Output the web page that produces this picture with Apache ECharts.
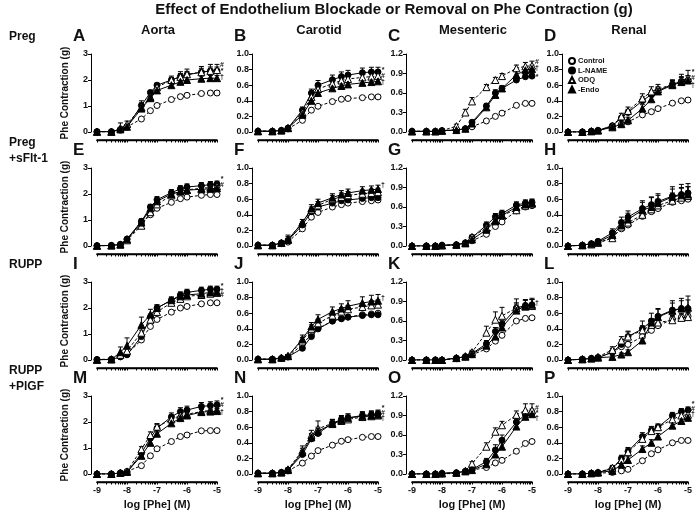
<!DOCTYPE html>
<html>
<head>
<meta charset="utf-8">
<script src="https://cdn.jsdelivr.net/npm/echarts@6/dist/echarts.min.js"></script>
<style>
  html, body { margin: 0; padding: 0; background: #fff; }
  #chart { width: 696px; height: 512px; }
</style>
</head>
<body>
<div id="chart"></div>
<script>
// log [Phe] doses (M)
const doses = [-9, -8.52, -8.22, -8, -7.52, -7.22, -7, -6.52, -6.22, -6, -5.52, -5.22, -5];
const groups = ['Control', 'L-NAME', 'ODQ', '-Endo'];
const vessels = ['Aorta', 'Carotid', 'Mesenteric', 'Renal'];
const conditions = [['Preg'], ['Preg', '+sFlt-1'], ['RUPP'], ['RUPP', '+PlGF']];
const letters = ['A','B','C','D','E','F','G','H','I','J','K','L','M','N','O','P'];
const xTicks = [-9, -8, -7, -6, -5];
const yMax = [3, 1, 1.2, 1];
const yStep = [1, 0.2, 0.3, 0.2];
const yDecimals = [0, 1, 1, 1];

// mean rows: Control, L-NAME, ODQ, -Endo
const A_mean = [
  [0.01,0.01,0.07,0.2,0.5,0.82,1.02,1.25,1.36,1.41,1.48,1.5,1.5],
  [0.01,0.01,0.1,0.2,1.02,1.52,1.8,2.0,2.13,2.2,2.3,2.35,2.35],
  [0.01,0.01,0.15,0.3,0.95,1.35,1.72,2.0,2.12,2.22,2.3,2.35,2.38],
  [0.01,0.01,0.1,0.2,0.9,1.3,1.6,1.8,1.93,2.0,2.05,2.07,2.07]];
const A_sem = [
  [0.02,0.02,0.03,0.04,0.04,0.05,0.05,0.07,0.08,0.08,0.08,0.08,0.08],
  [0.02,0.02,0.05,0.05,0.1,0.08,0.08,0.1,0.12,0.13,0.15,0.15,0.15],
  [0.02,0.02,0.2,0.12,0.25,0.15,0.12,0.15,0.2,0.2,0.22,0.25,0.22],
  [0.02,0.02,0.05,0.05,0.1,0.08,0.08,0.1,0.1,0.1,0.1,0.1,0.1]];
const B_mean = [
  [0.01,0.01,0.02,0.04,0.15,0.28,0.33,0.39,0.42,0.43,0.44,0.45,0.45],
  [0.01,0.01,0.02,0.05,0.28,0.5,0.6,0.67,0.71,0.73,0.76,0.77,0.77],
  [0.01,0.01,0.02,0.05,0.25,0.45,0.55,0.62,0.66,0.68,0.7,0.71,0.72],
  [0.01,0.01,0.02,0.05,0.22,0.4,0.5,0.56,0.59,0.61,0.63,0.64,0.65]];
const B_sem = [
  [0.01,0.01,0.01,0.01,0.02,0.02,0.02,0.02,0.02,0.02,0.02,0.02,0.02],
  [0.01,0.01,0.01,0.02,0.04,0.05,0.06,0.06,0.06,0.06,0.06,0.06,0.06],
  [0.01,0.01,0.01,0.02,0.04,0.05,0.05,0.05,0.05,0.05,0.05,0.05,0.05],
  [0.01,0.01,0.01,0.02,0.03,0.04,0.04,0.04,0.04,0.04,0.04,0.04,0.04]];
const C_mean = [
  [0.01,0.01,0.01,0.02,0.03,0.05,0.08,0.17,0.24,0.29,0.41,0.44,0.44],
  [0.01,0.01,0.01,0.02,0.03,0.05,0.15,0.4,0.6,0.67,0.8,0.85,0.86],
  [0.01,0.01,0.01,0.02,0.09,0.3,0.47,0.69,0.8,0.86,0.98,1.01,1.02],
  [0.01,0.01,0.01,0.02,0.03,0.05,0.13,0.38,0.57,0.67,0.88,0.95,0.97]];
const C_sem = [
  [0.01,0.01,0.01,0.01,0.01,0.01,0.01,0.02,0.02,0.02,0.02,0.02,0.02],
  [0.01,0.01,0.01,0.01,0.01,0.02,0.03,0.04,0.05,0.04,0.05,0.05,0.04],
  [0.01,0.01,0.01,0.01,0.03,0.05,0.06,0.04,0.04,0.04,0.05,0.06,0.07],
  [0.01,0.01,0.01,0.01,0.01,0.02,0.03,0.04,0.04,0.04,0.05,0.05,0.06]];
const D_mean = [
  [0,0,0.01,0.02,0.07,0.1,0.13,0.22,0.26,0.3,0.37,0.4,0.41],
  [0,0,0.01,0.02,0.08,0.18,0.25,0.4,0.48,0.53,0.61,0.65,0.66],
  [0,0,0.01,0.02,0.08,0.2,0.27,0.43,0.52,0.55,0.61,0.66,0.69],
  [0,0,0.01,0.02,0.06,0.1,0.15,0.3,0.42,0.52,0.6,0.64,0.66]];
const D_sem = [
  [0,0,0.01,0.01,0.01,0.02,0.02,0.02,0.02,0.02,0.02,0.02,0.02],
  [0,0,0.01,0.01,0.02,0.03,0.04,0.05,0.05,0.05,0.05,0.06,0.06],
  [0,0,0.01,0.01,0.02,0.04,0.05,0.06,0.06,0.06,0.06,0.08,0.1],
  [0,0,0.01,0.01,0.02,0.03,0.04,0.05,0.05,0.05,0.05,0.06,0.06]];
const E_mean = [
  [0.01,0.02,0.06,0.25,0.85,1.2,1.45,1.68,1.82,1.88,1.95,1.98,1.98],
  [0.01,0.02,0.06,0.27,0.95,1.5,1.78,2.05,2.2,2.27,2.32,2.36,2.38],
  [0.01,0.02,0.05,0.22,0.78,1.3,1.6,1.95,2.1,2.16,2.22,2.25,2.3],
  [0.01,0.02,0.06,0.26,0.9,1.45,1.72,2.0,2.1,2.15,2.18,2.2,2.22]];
const E_sem = [
  [0.01,0.01,0.02,0.03,0.06,0.06,0.06,0.06,0.06,0.06,0.06,0.06,0.06],
  [0.01,0.01,0.02,0.04,0.1,0.1,0.12,0.12,0.12,0.12,0.12,0.12,0.12],
  [0.01,0.01,0.02,0.04,0.08,0.08,0.1,0.1,0.1,0.1,0.1,0.12,0.12],
  [0.01,0.01,0.02,0.04,0.1,0.1,0.1,0.1,0.1,0.1,0.1,0.1,0.1]];
const F_mean = [
  [0.01,0.01,0.03,0.05,0.22,0.37,0.43,0.5,0.53,0.55,0.57,0.58,0.59],
  [0.01,0.01,0.04,0.07,0.27,0.44,0.5,0.55,0.58,0.59,0.61,0.62,0.62],
  [0.01,0.01,0.04,0.08,0.3,0.46,0.52,0.6,0.63,0.65,0.67,0.68,0.69],
  [0.01,0.01,0.04,0.08,0.3,0.48,0.55,0.62,0.66,0.68,0.71,0.72,0.73]];
const F_sem = [
  [0.01,0.01,0.01,0.02,0.02,0.03,0.03,0.03,0.03,0.03,0.03,0.03,0.03],
  [0.01,0.01,0.02,0.03,0.04,0.04,0.04,0.04,0.04,0.04,0.04,0.04,0.04],
  [0.01,0.01,0.02,0.06,0.04,0.04,0.05,0.05,0.05,0.05,0.05,0.05,0.05],
  [0.01,0.01,0.02,0.04,0.04,0.05,0.05,0.05,0.05,0.05,0.05,0.05,0.05]];
const G_mean = [
  [0,0,0,0.01,0.01,0.04,0.08,0.18,0.3,0.37,0.54,0.6,0.62],
  [0,0,0,0.01,0.02,0.05,0.13,0.32,0.45,0.5,0.63,0.66,0.67],
  [0,0,0,0.01,0.02,0.05,0.14,0.28,0.4,0.48,0.55,0.62,0.65],
  [0,0,0,0.01,0.02,0.04,0.1,0.25,0.38,0.47,0.6,0.64,0.66]];
const G_sem = [
  [0,0,0,0.01,0.01,0.01,0.02,0.02,0.02,0.03,0.03,0.03,0.03],
  [0,0,0,0.01,0.01,0.02,0.03,0.05,0.05,0.05,0.05,0.05,0.05],
  [0,0,0,0.01,0.01,0.02,0.03,0.04,0.05,0.05,0.05,0.05,0.05],
  [0,0,0,0.01,0.01,0.02,0.03,0.04,0.04,0.04,0.04,0.05,0.06]];
const H_mean = [
  [0,0.01,0.02,0.04,0.11,0.22,0.27,0.38,0.44,0.48,0.56,0.58,0.6],
  [0,0.01,0.03,0.06,0.17,0.3,0.37,0.48,0.53,0.57,0.64,0.66,0.68],
  [0,0.01,0.02,0.04,0.1,0.25,0.3,0.4,0.47,0.52,0.58,0.62,0.64],
  [0,0.01,0.03,0.05,0.14,0.27,0.34,0.46,0.5,0.55,0.63,0.65,0.66]];
const H_sem = [
  [0,0.01,0.01,0.01,0.02,0.02,0.03,0.03,0.03,0.03,0.03,0.03,0.03],
  [0,0.01,0.02,0.02,0.05,0.07,0.08,0.1,0.1,0.1,0.12,0.13,0.12],
  [0,0.01,0.02,0.02,0.03,0.05,0.06,0.08,0.08,0.08,0.1,0.12,0.12],
  [0,0.01,0.02,0.02,0.04,0.06,0.08,0.1,0.12,0.1,0.1,0.1,0.1]];
const I_mean = [
  [0.02,0.03,0.13,0.23,0.77,1.29,1.56,1.84,2.0,2.06,2.16,2.2,2.2],
  [0.01,0.02,0.12,0.2,0.9,1.65,2.0,2.3,2.5,2.6,2.68,2.72,2.72],
  [0.01,0.03,0.2,0.35,1.05,1.55,1.85,2.2,2.35,2.45,2.5,2.55,2.58],
  [0.01,0.02,0.3,0.55,1.35,1.75,2.0,2.3,2.45,2.5,2.55,2.6,2.62]];
const I_sem = [
  [0.02,0.02,0.03,0.04,0.1,0.08,0.06,0.06,0.05,0.05,0.05,0.05,0.05],
  [0.02,0.02,0.03,0.05,0.1,0.12,0.12,0.12,0.12,0.12,0.12,0.12,0.12],
  [0.02,0.02,0.05,0.1,0.1,0.1,0.1,0.1,0.1,0.1,0.1,0.1,0.1],
  [0.02,0.02,0.2,0.3,0.3,0.2,0.12,0.12,0.12,0.12,0.12,0.12,0.12]];
const J_mean = [
  [0.01,0.01,0.02,0.04,0.2,0.33,0.4,0.5,0.53,0.55,0.58,0.59,0.6],
  [0.01,0.01,0.02,0.04,0.15,0.3,0.4,0.5,0.53,0.55,0.57,0.58,0.58],
  [0.01,0.01,0.03,0.05,0.25,0.4,0.47,0.57,0.62,0.65,0.68,0.7,0.71],
  [0.01,0.01,0.03,0.05,0.27,0.43,0.52,0.62,0.66,0.69,0.73,0.75,0.76]];
const J_sem = [
  [0.01,0.01,0.01,0.01,0.02,0.02,0.02,0.02,0.02,0.02,0.02,0.02,0.02],
  [0.01,0.01,0.01,0.01,0.02,0.02,0.02,0.02,0.02,0.02,0.02,0.02,0.02],
  [0.01,0.01,0.01,0.02,0.04,0.05,0.05,0.05,0.05,0.05,0.05,0.06,0.06],
  [0.01,0.01,0.01,0.02,0.05,0.05,0.06,0.06,0.06,0.07,0.08,0.08,0.08]];
const K_mean = [
  [0,0,0,0,0.02,0.05,0.08,0.17,0.29,0.38,0.6,0.64,0.65],
  [0,0,0,0,0.03,0.05,0.1,0.25,0.44,0.55,0.8,0.84,0.85],
  [0,0,0,0,0.03,0.06,0.12,0.42,0.62,0.68,0.8,0.82,0.83],
  [0,0,0,0,0.03,0.05,0.09,0.22,0.36,0.5,0.76,0.83,0.85]];
const K_sem = [
  [0,0,0,0,0.01,0.01,0.01,0.02,0.02,0.02,0.02,0.02,0.02],
  [0,0,0,0,0.01,0.01,0.02,0.05,0.06,0.06,0.08,0.08,0.08],
  [0,0,0,0,0.01,0.02,0.03,0.1,0.12,0.13,0.14,0.1,0.1],
  [0,0,0,0,0.01,0.01,0.02,0.04,0.06,0.08,0.1,0.1,0.1]];
const L_mean = [
  [0,0.01,0.02,0.03,0.1,0.17,0.2,0.3,0.38,0.44,0.52,0.55,0.56],
  [0,0.01,0.02,0.03,0.1,0.2,0.3,0.4,0.5,0.56,0.64,0.66,0.66],
  [0,0.01,0.02,0.04,0.13,0.25,0.3,0.38,0.45,0.48,0.51,0.54,0.55],
  [0,0.01,0.02,0.03,0.04,0.07,0.1,0.25,0.48,0.55,0.63,0.66,0.67]];
const L_sem = [
  [0,0.01,0.01,0.01,0.02,0.03,0.04,0.04,0.04,0.04,0.04,0.04,0.04],
  [0,0.01,0.01,0.02,0.05,0.06,0.07,0.1,0.1,0.1,0.12,0.13,0.16],
  [0,0.01,0.01,0.02,0.04,0.05,0.06,0.06,0.06,0.06,0.06,0.06,0.06],
  [0,0.01,0.01,0.01,0.02,0.02,0.03,0.04,0.05,0.1,0.1,0.1,0.1]];
const M_mean = [
  [0,0,0.04,0.1,0.32,0.7,0.97,1.25,1.44,1.5,1.66,1.67,1.67],
  [0,0,0.04,0.05,0.8,1.38,1.76,2.2,2.4,2.46,2.6,2.63,2.66],
  [0,0,0.05,0.1,0.95,1.5,1.82,2.1,2.25,2.3,2.4,2.45,2.47],
  [0,0,0.04,0.08,0.7,1.2,1.55,1.95,2.15,2.25,2.38,2.4,2.42]];
const M_sem = [
  [0.02,0.02,0.02,0.03,0.05,0.05,0.05,0.05,0.05,0.05,0.05,0.05,0.05],
  [0.02,0.02,0.03,0.05,0.1,0.12,0.15,0.15,0.15,0.15,0.15,0.15,0.15],
  [0.02,0.02,0.03,0.05,0.1,0.12,0.12,0.12,0.12,0.12,0.12,0.12,0.12],
  [0.02,0.02,0.03,0.05,0.1,0.1,0.1,0.1,0.1,0.1,0.1,0.1,0.1]];
const N_mean = [
  [0.01,0.01,0.02,0.04,0.14,0.23,0.3,0.37,0.42,0.44,0.47,0.48,0.48],
  [0.01,0.01,0.02,0.05,0.25,0.45,0.52,0.65,0.7,0.72,0.75,0.76,0.77],
  [0.01,0.01,0.02,0.06,0.3,0.5,0.58,0.65,0.68,0.7,0.73,0.74,0.75],
  [0.01,0.01,0.02,0.05,0.28,0.47,0.55,0.64,0.69,0.72,0.74,0.75,0.76]];
const N_sem = [
  [0.01,0.01,0.01,0.01,0.02,0.02,0.02,0.02,0.02,0.02,0.02,0.02,0.02],
  [0.01,0.01,0.01,0.02,0.05,0.06,0.06,0.05,0.05,0.05,0.05,0.05,0.05],
  [0.01,0.01,0.01,0.02,0.06,0.06,0.1,0.05,0.05,0.05,0.05,0.05,0.05],
  [0.01,0.01,0.01,0.02,0.05,0.05,0.05,0.05,0.05,0.05,0.05,0.05,0.05]];
const O_mean = [
  [0,0,0,0,0.01,0.04,0.06,0.1,0.17,0.21,0.35,0.47,0.5],
  [0,0,0,0.01,0.02,0.04,0.07,0.19,0.37,0.52,0.8,0.91,0.94],
  [0,0,0,0.01,0.02,0.05,0.16,0.42,0.65,0.75,0.91,0.98,0.98],
  [0,0,0,0.01,0.02,0.04,0.06,0.15,0.3,0.42,0.73,0.88,0.92]];
const O_sem = [
  [0,0,0,0,0.01,0.01,0.01,0.02,0.02,0.03,0.03,0.03,0.03],
  [0,0,0,0.01,0.01,0.02,0.03,0.05,0.08,0.08,0.06,0.06,0.06],
  [0,0,0,0.01,0.01,0.02,0.03,0.06,0.06,0.06,0.06,0.1,0.1],
  [0,0,0,0.01,0.01,0.02,0.02,0.04,0.05,0.06,0.06,0.06,0.06]];
const P_mean = [
  [0,0,0.01,0.01,0.02,0.04,0.06,0.17,0.26,0.31,0.4,0.43,0.43],
  [0,0,0.01,0.02,0.07,0.2,0.29,0.48,0.56,0.6,0.75,0.8,0.82],
  [0,0,0.01,0.02,0.08,0.18,0.28,0.45,0.55,0.6,0.7,0.75,0.76],
  [0,0,0.01,0.02,0.04,0.12,0.18,0.32,0.4,0.48,0.62,0.68,0.72]];
const P_sem = [
  [0,0,0.01,0.01,0.01,0.01,0.01,0.02,0.02,0.02,0.02,0.02,0.02],
  [0,0,0.01,0.01,0.03,0.04,0.05,0.05,0.05,0.04,0.04,0.04,0.04],
  [0,0,0.01,0.01,0.03,0.04,0.05,0.05,0.05,0.04,0.04,0.04,0.04],
  [0,0,0.01,0.01,0.02,0.03,0.04,0.04,0.04,0.04,0.04,0.04,0.04]];

// significance symbols at the right of each panel (top to bottom)
const sigText = [['#','*','†'],['*','#','†'],['#','†','*'],['*','#','†'],
                 ['*','#'],['†'],[],[],
                 ['*','†','#'],['†'],['†'],[],
                 ['*','#','†'],['*','#','†'],['#','*','†'],['*','#','†']];
const sigY = [[2.57,2.35,2.1],[0.79,0.72,0.64],[1.08,0.98,0.85],[0.77,0.69,0.6],
              [2.57,2.35],[0.78],[],[],
              [2.85,2.67,2.5],[0.79],[0.88],[],
              [2.85,2.65,2.4],[0.85,0.78,0.72],[1.02,0.94,0.86],[0.9,0.83,0.77]];

const means = [A_mean,B_mean,C_mean,D_mean,E_mean,F_mean,G_mean,H_mean,I_mean,J_mean,K_mean,L_mean,M_mean,N_mean,O_mean,P_mean];
const sems = [A_sem,B_sem,C_sem,D_sem,E_sem,F_sem,G_sem,H_sem,I_sem,J_sem,K_sem,L_sem,M_sem,N_sem,O_sem,P_sem];

const FONT = '"Liberation Sans", Arial, sans-serif';
const gridLeft = [97, 258, 412, 568];
const gridTop = [54, 168, 282, 396];
const PW = 120, PH = 78;
const X_OFFSET = 8;

// Prism style log axis ticks: decades plus 2..9 inside each decade
const xTickMarks = xTicks.slice();
for (let d = -9; d < -5; d++) {
  for (let k = 2; k <= 9; k++) xTickMarks.push(d + Math.log10(k));
}

const styles = [
  {symbol: 'circle', size: 6, fill: '#fff', dash: [3, 2]},
  {symbol: 'circle', size: 6, fill: '#000', dash: 'solid'},
  {symbol: 'triangle', size: 7, fill: '#fff', dash: [3, 2]},
  {symbol: 'triangle', size: 7, fill: '#000', dash: 'solid'}
];

const chart = echarts.init(document.getElementById('chart'));

const grids = [], xAxes = [], yAxes = [], series = [], graphics = [];

const errorBar = (params, api) => {
  const x = api.value(0), y = api.value(1), e = api.value(2);
  if (!e) return null;
  const p0 = api.coord([x, y]);
  const p1 = api.coord([x, y + e]);
  const st = {stroke: '#000', lineWidth: 1};
  return {type: 'group', children: [
    {type: 'line', shape: {x1: p0[0], y1: p0[1], x2: p1[0], y2: p1[1]}, style: st},
    {type: 'line', shape: {x1: p1[0] - 2.5, y1: p1[1], x2: p1[0] + 2.5, y2: p1[1]}, style: st}
  ]};
};

for (let r = 0; r < 4; r++) {
  for (let c = 0; c < 4; c++) {
    const k = r * 4 + c;
    grids.push({left: gridLeft[c], top: gridTop[r], width: PW, height: PH});
    const last = r === 3;
    xAxes.push({
      type: 'value', gridIndex: k, position: 'bottom', min: -9, max: -5, interval: 1, offset: X_OFFSET,
      axisLine: {show: true, onZero: false, lineStyle: {color: '#000', width: 1.3}},
      axisTick: {show: true, length: 2.5, customValues: xTickMarks, lineStyle: {color: '#000'}},
      splitLine: {show: false},
      axisLabel: {show: last, fontSize: 9, fontWeight: 'bold', color: '#111', fontFamily: FONT, margin: 4,
                  customValues: xTicks},
      name: last ? 'log [Phe] (M)' : '', nameLocation: 'middle', nameGap: 17,
      nameTextStyle: {fontSize: 11, fontWeight: 'bold', color: '#111', fontFamily: FONT}
    });
    yAxes.push({
      type: 'value', gridIndex: k, min: 0, max: yMax[c], interval: yStep[c], offset: 6,
      axisLine: {show: true, lineStyle: {color: '#000', width: 1}},
      axisTick: {show: true, length: 3, lineStyle: {color: '#000'}},
      splitLine: {show: false},
      axisLabel: {fontSize: 9, fontWeight: 'bold', color: '#111', fontFamily: FONT, margin: 3,
                  formatter: v => v.toFixed(yDecimals[c])},
      name: c === 0 ? 'Phe Contraction (g)' : '', nameLocation: 'middle', nameRotate: 90, nameGap: 21,
      nameTextStyle: {fontSize: 10, fontWeight: 'bold', color: '#111', fontFamily: FONT}
    });

    for (let g = 0; g < 4; g++) {
      const s = styles[g];
      series.push({
        type: 'custom', name: groups[g] + ' SEM', xAxisIndex: k, yAxisIndex: k,
        renderItem: errorBar, clip: false, z: 2, silent: true,
        data: doses.map((d, i) => [d, means[k][g][i], sems[k][g][i]])
      });
      series.push({
        type: 'line', name: groups[g], xAxisIndex: k, yAxisIndex: k,
        data: doses.map((d, i) => [d, means[k][g][i]]),
        symbol: s.symbol, symbolSize: s.size, showAllSymbol: true, z: 3 + g,
        lineStyle: {color: '#000', width: 1, type: s.dash},
        itemStyle: {color: s.fill, borderColor: '#000', borderWidth: 1},
        emphasis: {disabled: true}
      });
    }

    graphics.push({type: 'text', left: gridLeft[c] - 24, top: gridTop[r] - 26,
      style: {text: letters[k], fill: '#111', font: 'bold 17px ' + FONT}});
  }
}

// column titles
vessels.forEach((v, c) => {
  graphics.push({type: 'text', x: gridLeft[c] + 61, y: 30,
    style: {text: v, font: 'bold 13px ' + FONT, fill: '#111', textAlign: 'center', textVerticalAlign: 'middle'}});
});
// row labels
conditions.forEach((lines, r) => {
  graphics.push({type: 'text', x: 9, y: gridTop[r] - 17,
    style: {text: lines.join('\n'), font: 'bold 12px ' + FONT, fill: '#111', lineHeight: 16, textVerticalAlign: 'middle'}});
});
// main title
graphics.push({type: 'text', x: 394, y: 10,
  style: {text: 'Effect of Endothelium Blockade or Removal on Phe Contraction (g)',
          font: 'bold 15px ' + FONT, fill: '#111', textAlign: 'center', textVerticalAlign: 'middle'}});

chart.setOption({
  animation: false,
  backgroundColor: '#fff',
  grid: grids,
  xAxis: xAxes,
  yAxis: yAxes,
  legend: {
    orient: 'vertical', left: 563, top: 52, itemWidth: 6, itemHeight: 6, itemGap: 1.5,
    textStyle: {fontSize: 7.5, fontWeight: 'bold', color: '#111', fontFamily: FONT, padding: [0, 0, 0, -2]},
    data: groups.map((g, i) => ({name: g, icon: styles[i].symbol})),
    selectedMode: false
  },
  series: series
});

for (let k = 0; k < 16; k++) {
  const finder = {xAxisIndex: k, yAxisIndex: k};
  // x baseline, offset below the zero level like the axis itself
  const a = chart.convertToPixel(finder, [-9, 0]);
  const b = chart.convertToPixel(finder, [-5, 0]);
  const y = a[1] + X_OFFSET;
  graphics.push({type: 'line', silent: true, z: 50,
    shape: {x1: a[0] - 0.5, y1: y, x2: b[0] + 0.5, y2: y}, style: {stroke: '#000', lineWidth: 1.3}});
  // significance marks
  sigText[k].forEach((t, i) => {
    const p = chart.convertToPixel(finder, [-5, sigY[k][i]]);
    graphics.push({type: 'text', x: p[0] + 5, y: p[1],
      style: {text: t, font: 'bold 7px ' + FONT, fill: '#111', textAlign: 'center', textVerticalAlign: 'middle'}});
  });
}
chart.setOption({graphic: graphics});
</script>
</body>
</html>
